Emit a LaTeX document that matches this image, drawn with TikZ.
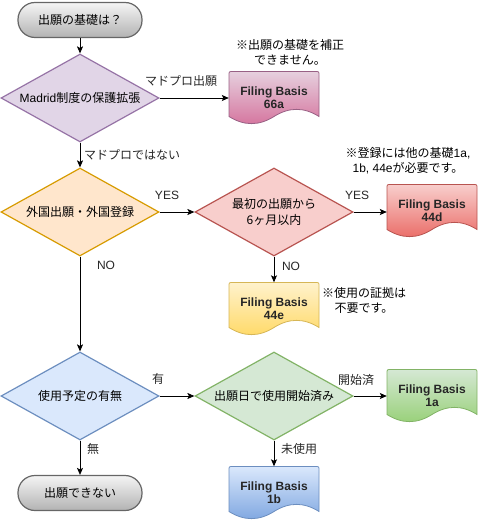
\documentclass[tikz,border=0pt]{standalone}
\usepackage{fontspec}
\setmainfont{Noto Sans CJK JP}
\newfontfamily\lat{Liberation Sans}
\usetikzlibrary{shapes.geometric,arrows.meta}

\definecolor{purpfill}{HTML}{E1D5E7}\definecolor{purpline}{HTML}{9673A6}
\definecolor{orfill}{HTML}{FFE6CC}\definecolor{orline}{HTML}{D79B00}
\definecolor{redfill}{HTML}{F8CECC}\definecolor{redline}{HTML}{B85450}
\definecolor{bluefill}{HTML}{DAE8FC}\definecolor{blueline}{HTML}{6C8EBF}
\definecolor{grnfill}{HTML}{D5E8D4}\definecolor{grnline}{HTML}{82B366}
\definecolor{pinkfill}{HTML}{E6D0DE}\definecolor{pinkline}{HTML}{996185}
\definecolor{yelfill}{HTML}{FFF2CC}\definecolor{yelline}{HTML}{D6B656}
% gradient ends
\definecolor{pinkdark}{HTML}{D5739D}\definecolor{reddark}{HTML}{EA6B66}
\definecolor{yeldark}{HTML}{FFD966}\definecolor{grndark}{HTML}{97D077}
\definecolor{bluedark}{HTML}{7EA6E0}

% document shape (wavy bottom), centred at #1
\newcommand{\docshape}[2]{%
  \begin{scope}[shift={#1}]
    \draw[line width=0.8pt,#2] (-45,18.5) -- (-45,-22.5) .. controls (-45,-26.5) .. (-41,-26.5)
      -- (41,-26.5) .. controls (45,-26.5) .. (45,-22.5) -- (45,18.5)
      .. controls (30,9) and (15,9) .. (0,18.5)
      .. controls (-15,28) and (-30,28) .. (-45,18.5) -- cycle;
  \end{scope}}

\begin{document}
\begin{tikzpicture}[x=1pt,y=-1pt,
  dia/.style={diamond,draw,line width=1.2pt,minimum width=158pt,minimum height=88pt,
    aspect=1.8,inner sep=0pt,align=center,font=\fontsize{12}{16}\selectfont},
  term/.style={rectangle,rounded corners=17pt,draw=black!60,line width=1.2pt,
    minimum width=124pt,minimum height=35pt,top color=black!4,bottom color=black!30,
    font=\fontsize{12}{14}\selectfont},
  doctext/.style={minimum width=90pt,minimum height=53pt,inner sep=0pt,align=center,
    font=\lat\bfseries\fontsize{12}{13}\selectfont,text=black!85},
  lbl/.style={inner sep=0pt,font=\fontsize{12}{14}\selectfont,text=black!85},
  note/.style={inner sep=0pt,align=center,font=\fontsize{12}{15}\selectfont},
  arr/.style={line width=0.8pt,-{Stealth[length=7pt,width=6pt,inset=1.5pt]}}]
  \useasboundingbox (0,0) rectangle (481,521);

  % Start / end
  \node[term] (start) at (80,20) {出願の基礎は？};
  \node[term] (stop) at (80,493) {出願できない};

  % Decisions
  \node[dia,fill=purpfill,draw=purpline] (madrid) at (80,98) {{\lat Madrid}制度の保護拡張};
  \node[dia,fill=orfill,draw=orline] (foreign) at (80,212) {外国出願・外国登録};
  \node[dia,fill=redfill,draw=redline] (sixmon) at (274,212) {最初の出願から\\6ヶ月以内};
  \node[dia,fill=bluefill,draw=blueline] (intent) at (80,396) {使用予定の有無};
  \node[dia,fill=grnfill,draw=grnline] (inuse) at (274,396) {出願日で使用開始済み};

  % Filing basis documents
  \docshape{(274,98)}{draw=pinkline,top color=pinkfill,bottom color=pinkdark}
  \node[doctext] (b66a) at (274,98) {Filing Basis\\66a};
  \docshape{(432,211)}{draw=redline,top color=redfill,bottom color=reddark}
  \node[doctext] (b44d) at (432,211) {Filing Basis\\44d};
  \docshape{(274,309)}{draw=yelline,top color=yelfill,bottom color=yeldark}
  \node[doctext] (b44e) at (274,309) {Filing Basis\\44e};
  \docshape{(432,396)}{draw=grnline,top color=grnfill,bottom color=grndark}
  \node[doctext] (b1a) at (432,396) {Filing Basis\\1a};
  \docshape{(274,493)}{draw=blueline,top color=bluefill,bottom color=bluedark}
  \node[doctext] (b1b) at (274,493) {Filing Basis\\1b};

  % Notes
  \node[note] (n66a) at (290,52) {※出願の基礎を補正\\できません。};
  \node[note] (n44d) at (408,161) {※登録には他の基礎{\lat 1a,}\\{\lat 1b, 44e}が必要です。};
  \node[note] (n44e) at (364,300) {※使用の証拠は\\不要です。};

  % Connectors
  \draw[arr] (start) -- (madrid);
  \draw[arr] (madrid) -- (b66a);
  \draw[arr] (madrid) -- (foreign);
  \draw[arr] (foreign) -- (sixmon);
  \draw[arr] (sixmon.east) -- (sixmon.east -| b44d.west);
  \draw[arr] (sixmon) -- (b44e);
  \draw[arr] (foreign) -- (intent);
  \draw[arr] (intent) -- (inuse);
  \draw[arr] (inuse) -- (b1a);
  \draw[arr] (inuse) -- (b1b);
  \draw[arr] (intent) -- (stop);

  % Connector labels
  \node[lbl] (lmad) at (181,81) {マドプロ出願};
  \node[lbl,anchor=west] (lnot) at (84,155) {マドプロではない};
  \node[lbl,font=\lat\fontsize{12}{14}\selectfont] (lyes1) at (167,195) {YES};
  \node[lbl,font=\lat\fontsize{12}{14}\selectfont] (lyes2) at (357,195) {YES};
  \node[lbl,font=\lat\fontsize{12}{14}\selectfont] (lno1) at (106,265) {NO};
  \node[lbl,font=\lat\fontsize{12}{14}\selectfont] (lno2) at (291,266) {NO};
  \node[lbl] (lyu) at (158,379) {有};
  \node[lbl] (lmu) at (93,449) {無};
  \node[lbl] (lstart) at (356,380) {開始済};
  \node[lbl] (lunused) at (299,449) {未使用};
\end{tikzpicture}
\end{document}
